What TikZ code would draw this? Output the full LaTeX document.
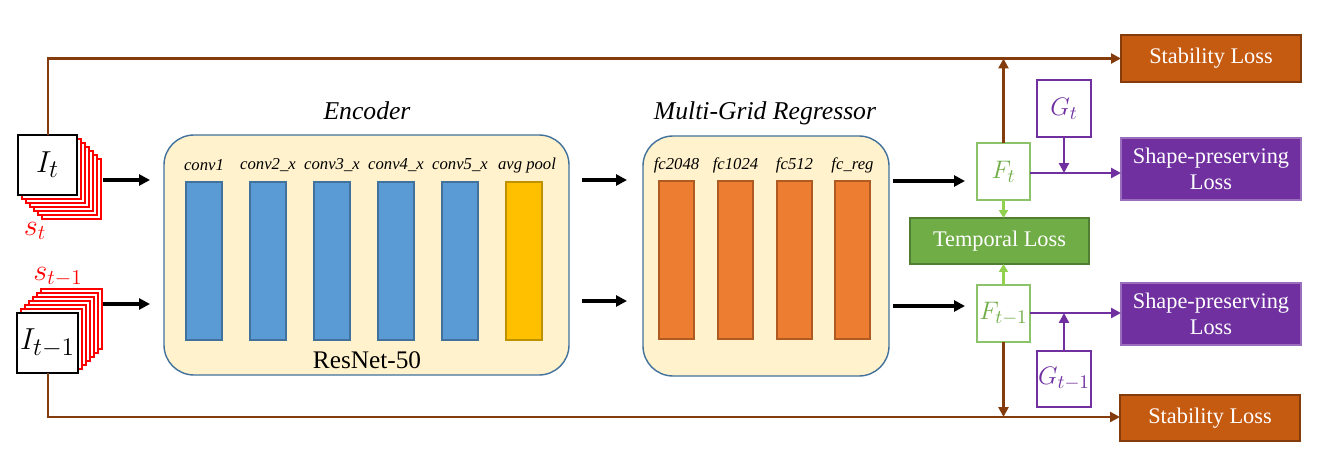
\documentclass[tikz,border=0pt]{standalone}
\usepackage{fontspec}
\setmainfont{Liberation Serif}
\usetikzlibrary{arrows.meta}
\definecolor{encfill}{HTML}{FFF2CC}
\definecolor{encline}{HTML}{41719C}
\definecolor{bluebar}{HTML}{5B9BD5}
\definecolor{poolfill}{HTML}{FFC000}
\definecolor{poolline}{HTML}{BF9000}
\definecolor{orbar}{HTML}{ED7D31}
\definecolor{orline}{HTML}{AE5A21}
\definecolor{stabfill}{HTML}{C55A11}
\definecolor{brownl}{HTML}{843C0C}
\definecolor{purp}{HTML}{7030A0}
\definecolor{tempfill}{HTML}{70AD47}
\definecolor{templine}{HTML}{507E32}
\definecolor{fline}{HTML}{8CC36A}
\definecolor{ftext}{HTML}{70AD47}
\definecolor{farrow}{HTML}{92D050}
\begin{document}
\begin{tikzpicture}[x=0.02cm,y=-0.02cm,
  box/.style={draw,inner sep=0pt,outer sep=0pt},
  imgbox/.style={box,fill=white,draw=black,line width=0.6pt},
  redframe/.style={box,fill=white,draw=red,line width=0.6pt,minimum width={59*0.02cm},minimum height={60*0.02cm}},
  group/.style={box,fill=encfill,draw=encline,line width=0.8pt,rounded corners=0.6cm},
  bbar/.style={box,fill=bluebar,draw=encline,line width=0.6pt,minimum width={36*0.02cm},minimum height={158*0.02cm}},
  pbar/.style={box,fill=poolfill,draw=poolline,line width=0.6pt,minimum width={36*0.02cm},minimum height={158*0.02cm}},
  obar/.style={box,fill=orbar,draw=orline,line width=0.6pt,minimum width={35*0.02cm},minimum height={158*0.02cm}},
  layerlbl/.style={font=\fontsize{9.5}{10}\selectfont\itshape,inner sep=0pt},
  title/.style={font=\fontsize{14.6}{16}\selectfont\itshape,inner sep=0pt},
  lossbox/.style={box,text=white,font=\fontsize{12.7}{15}\selectfont,align=center,minimum width={180*0.02cm}},
  fbox/.style={box,fill=white,draw=fline,line width=0.8pt,text=ftext,minimum width={53*0.02cm},minimum height={57*0.02cm},font=\fontsize{15.5}{16}\selectfont},
  gbox/.style={box,fill=white,draw=purp,line width=0.8pt,text=purp,minimum width={54*0.02cm},minimum height={57*0.02cm},font=\fontsize{15.5}{16}\selectfont},
  blk/.style={line width=2pt,-{Triangle[length=0.22cm,width=0.22cm]}},
  brw/.style={draw=brownl,line width=1.6pt},
  brwa/.style={brw,-{Triangle[length=0.2cm,width=0.2cm]}},
  prp/.style={draw=purp,line width=1.6pt},
  prpa/.style={prp,-{Triangle[length=0.2cm,width=0.2cm]}},
  grna/.style={draw=farrow,line width=1.4pt,-{Triangle[length=0.16cm,width=0.18cm]}}
]
\useasboundingbox (0,0) rectangle (1320,456);

% ---- input I_t with stacked frames
\foreach \k in {6,5,...,1}{
  \node[redframe] (st\k) at ({47.5+4*\k},{165+4*\k}) {};
}
\node[imgbox,minimum width={59*0.02cm},minimum height={60*0.02cm},font=\fontsize{19}{20}\selectfont] (It) at (47.5,165) {$I_t$};
\node[text=red,font=\fontsize{17}{18}\selectfont,inner sep=0pt] (slbl) at (35,231) {$s_t$};

% ---- input I_{t-1}
\foreach \k in {6,5,...,1}{
  \node[redframe,minimum width={61*0.02cm}] (sm\k) at ({47.5+4*\k},{343-4*\k}) {};
}
\node[imgbox,minimum width={61*0.02cm},minimum height={60*0.02cm},font=\fontsize{19}{20}\selectfont] (Itm) at (47.5,343) {$I_{t-1}$};
\node[text=red,font=\fontsize{17}{18}\selectfont,inner sep=0pt] (smlbl) at (58,277) {$s_{t-1}$};

% ---- encoder
\node[group,minimum width={405*0.02cm},minimum height={240*0.02cm}] (enc) at (366.5,255) {};
\node[title] (enct) at (367,111) {Encoder};
\foreach \x/\n/\l in {204/c1/conv1,268/c2/conv2\_x,332/c3/conv3\_x,396/c4/conv4\_x,460/c5/conv5\_x}{
  \node[bbar] (\n) at (\x,261) {};
  \node[layerlbl] (\n l) at (\x,165) {\l};
}
\node[pbar] (pool) at (524,261) {};
\node[layerlbl] (pooll) at (527,165) {avg pool};
\node[font=\fontsize{14.4}{16}\selectfont,inner sep=0pt] (resn) at (367,360) {ResNet-50};

% ---- regressor
\node[group,minimum width={246*0.02cm},minimum height={240*0.02cm}] (reg) at (766,256) {};
\node[title] (regt) at (765,113) {Multi-Grid Regressor};
\foreach \x/\n/\l in {676.5/f1/fc2048,735.5/f2/fc1024,794.5/f3/fc512,852.5/f4/fc\_reg}{
  \node[obar] (\n) at (\x,260) {};
  \node[layerlbl] (\n l) at (\x,165) {\l};
}

% ---- right side
\node[fbox] (Ft) at (1003.5,171.5) {$F_t$};
\node[fbox] (Ftm) at (1003.5,313.5) {$F_{t-1}$};
\node[box,fill=tempfill,draw=templine,line width=0.8pt,text=white,font=\fontsize{12.7}{15}\selectfont,minimum width={179*0.02cm},minimum height={46*0.02cm}] (temp) at (999.5,241) {Temporal Loss};
\node[lossbox,fill=stabfill,draw=brownl,line width=0.8pt,minimum height={47*0.02cm}] (stab1) at (1211,58.5) {Stability Loss};
\node[lossbox,fill=stabfill,draw=brownl,line width=0.8pt,minimum height={46*0.02cm}] (stab2) at (1210,418) {Stability Loss};
\node[lossbox,fill=purp,draw=purp!70!white,line width=0.6pt,minimum height={62*0.02cm}] (shp1) at (1211,169) {Shape-preserving\\Loss};
\node[lossbox,fill=purp,draw=purp!70!white,line width=0.6pt,minimum height={62*0.02cm}] (shp2) at (1211,314) {Shape-preserving\\Loss};
\node[gbox] (Gt) at (1064,108.5) {$G_t$};
\node[gbox,minimum height={56*0.02cm}] (Gtm) at (1064,379) {$G_{t-1}$};

% ---- connectors
\coordinate (a1) at (103,180);
\coordinate (a2) at (103,304);
\draw[blk] (a1) -- ([xshift=-14*0.02cm]a1 -| enc.west);
\draw[blk] (a2) -- ([xshift=-14*0.02cm]a2 -| enc.west);
\coordinate (b1) at (582,180);
\coordinate (b2) at (582,301);
\draw[blk] (b1) -- ([xshift=-16*0.02cm]b1 -| reg.west);
\draw[blk] (b2) -- ([xshift=-16*0.02cm]b2 -| reg.west);
\coordinate (c1) at (893,181);
\coordinate (c2) at (893,306);
\draw[blk] (c1) -- ([xshift=-12*0.02cm]c1 -| Ft.west);
\draw[blk] (c2) -- ([xshift=-12*0.02cm]c2 -| Ftm.west);

% brown stability lines
\coordinate (top) at (48,58.5);
\coordinate (bot) at (48,417);
\draw[brwa] (It.north -| top) -- (top) -- (top -| stab1.west);
\draw[brwa] (Itm.south -| bot) -- (bot) -- (bot -| stab2.west);
\draw[brwa] (Ft.north) -- (Ft.north |- top);
\draw[brwa] (Ftm.south) -- (Ftm.south |- bot);

% temporal
\draw[grna] (Ft.south) -- (Ft.south |- temp.north);
\draw[grna] (Ftm.north) -- (Ftm.north |- temp.south);

% shape-preserving
\coordinate (p1) at (1030,173);
\coordinate (p2) at (1030,313);
\draw[prpa] (p1) -- (p1 -| shp1.west);
\draw[prpa] (p2) -- (p2 -| shp2.west);
\draw[prpa] (Gt.south) -- (Gt.south |- p1);
\draw[prpa] (Gtm.north) -- (Gtm.north |- p2);
\end{tikzpicture}
\end{document}
